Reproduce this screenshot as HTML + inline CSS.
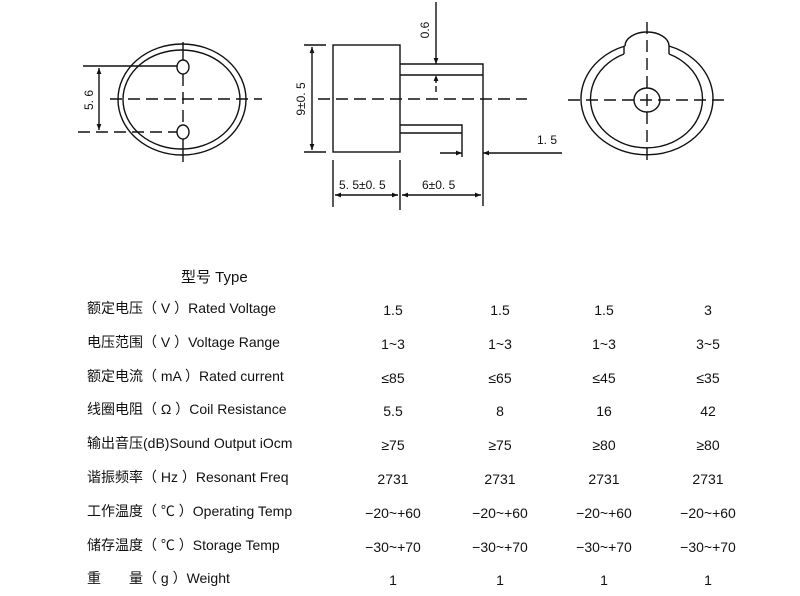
<!DOCTYPE html>
<html><head><meta charset="utf-8"><style>
html,body{margin:0;padding:0;background:#fff;}
svg{display:block;}
text{font-family:"Liberation Sans","Noto Sans CJK SC",sans-serif;fill:#111;}
</style></head><body>
<svg width="800" height="596" viewBox="0 0 800 596" xmlns="http://www.w3.org/2000/svg">
<defs>
<marker id="a" viewBox="0 0 10 10" refX="10" refY="5" markerWidth="8" markerHeight="6" orient="auto-start-reverse" markerUnits="userSpaceOnUse"><path d="M0,1 L10,5 L0,9 z" fill="#111"/></marker>
</defs>
<g stroke="#111" stroke-width="1.4" fill="none">
<ellipse cx="182" cy="99.5" rx="64" ry="55.5"/>
<ellipse cx="181.5" cy="99.5" rx="58.5" ry="49.5"/>
<ellipse cx="183" cy="67" rx="6" ry="7" fill="#fff"/>
<ellipse cx="183" cy="132" rx="6" ry="7" fill="#fff"/>
<line x1="110" y1="99" x2="262" y2="99" stroke-dasharray="12,6"/>
<line x1="183" y1="42" x2="183" y2="60" />
<line x1="183" y1="74" x2="183" y2="125" stroke-dasharray="12,6"/>
<line x1="183" y1="139" x2="183" y2="162"/>
<line x1="78" y1="132" x2="177" y2="132" stroke-dasharray="12,6"/>
<line x1="83" y1="66" x2="177" y2="66"/>
<line x1="99" y1="68" x2="99" y2="130" marker-start="url(#a)" marker-end="url(#a)"/>
<rect x="333" y="45" width="67" height="107"/>
<polyline points="400,64 483,64 483,206"/>
<line x1="400" y1="75" x2="483" y2="75"/>
<polyline points="400,125 462,125 462,157"/>
<line x1="400" y1="133" x2="462" y2="133"/>
<line x1="318" y1="99" x2="527" y2="99" stroke-dasharray="12,6"/>
<line x1="304" y1="45" x2="326" y2="45"/>
<line x1="304" y1="152" x2="326" y2="152"/>
<line x1="312" y1="47" x2="312" y2="150" marker-start="url(#a)" marker-end="url(#a)"/>
<line x1="436" y1="2" x2="436" y2="64" marker-end="url(#a)"/>
<line x1="436" y1="92" x2="436" y2="75" marker-end="url(#a)" stroke-dasharray="6,3"/>
<line x1="440" y1="153" x2="462" y2="153" marker-end="url(#a)"/>
<line x1="562" y1="153" x2="483" y2="153" marker-end="url(#a)"/>
<line x1="333" y1="160" x2="333" y2="207"/>
<line x1="400" y1="160" x2="400" y2="210"/>
<line x1="335" y1="195" x2="398" y2="195" marker-start="url(#a)" marker-end="url(#a)"/>
<line x1="402" y1="195" x2="481" y2="195" marker-start="url(#a)" marker-end="url(#a)"/>
<path d="M625,46 A22,14 0 0 1 669,46"/>
<path d="M625,46 A66,56 0 1 0 669,46"/>
<path d="M624,46 L624,54 M669,46 L669,54"/>
<path d="M624,54 A56,49 0 1 0 669,54"/>
<ellipse cx="647" cy="100" rx="13" ry="12"/>
<line x1="568" y1="100" x2="727" y2="100" stroke-dasharray="12,6"/>
<line x1="647" y1="22" x2="647" y2="162" stroke-dasharray="12,6"/>
</g>
<g font-size="12">
<text transform="translate(93,100) rotate(-90)" text-anchor="middle">5. 6</text>
<text transform="translate(305,99) rotate(-90)" text-anchor="middle">9±0. 5</text>
<text transform="translate(429,30) rotate(-90)" text-anchor="middle">0.6</text>
<text x="537" y="144">1. 5</text>
<text x="339" y="189">5. 5±0. 5</text>
<text x="422" y="189">6±0. 5</text>
</g>
<text x="181" y="282" font-size="15">型号 Type</text>
<g font-size="14">
<text x="87" y="313">额定电压（ V ）Rated Voltage</text>
<text x="87" y="347">电压范围（ V ）Voltage Range</text>
<text x="87" y="381">额定电流（ mA ）Rated current</text>
<text x="87" y="414">线圈电阻（ Ω ）Coil Resistance</text>
<text x="87" y="448">输出音压(dB)Sound Output iOcm</text>
<text x="87" y="482">谐振频率（ Hz ）Resonant Freq</text>
<text x="87" y="516">工作温度（ ℃ ）Operating Temp</text>
<text x="87" y="550">储存温度（ ℃ ）Storage Temp</text>
<text x="87" y="583">重　　量（ g ）Weight</text>
</g>
<g font-size="14" text-anchor="middle">
<text x="393" y="315">1.5</text><text x="500" y="315">1.5</text><text x="604" y="315">1.5</text><text x="708" y="315">3</text>
<text x="393" y="349">1~3</text><text x="500" y="349">1~3</text><text x="604" y="349">1~3</text><text x="708" y="349">3~5</text>
<text x="393" y="383">≤85</text><text x="500" y="383">≤65</text><text x="604" y="383">≤45</text><text x="708" y="383">≤35</text>
<text x="393" y="416">5.5</text><text x="500" y="416">8</text><text x="604" y="416">16</text><text x="708" y="416">42</text>
<text x="393" y="450">≥75</text><text x="500" y="450">≥75</text><text x="604" y="450">≥80</text><text x="708" y="450">≥80</text>
<text x="393" y="484">2731</text><text x="500" y="484">2731</text><text x="604" y="484">2731</text><text x="708" y="484">2731</text>
<text x="393" y="518">−20~+60</text><text x="500" y="518">−20~+60</text><text x="604" y="518">−20~+60</text><text x="708" y="518">−20~+60</text>
<text x="393" y="552">−30~+70</text><text x="500" y="552">−30~+70</text><text x="604" y="552">−30~+70</text><text x="708" y="552">−30~+70</text>
<text x="393" y="585">1</text><text x="500" y="585">1</text><text x="604" y="585">1</text><text x="708" y="585">1</text>
</g>
</svg>
</body></html>
